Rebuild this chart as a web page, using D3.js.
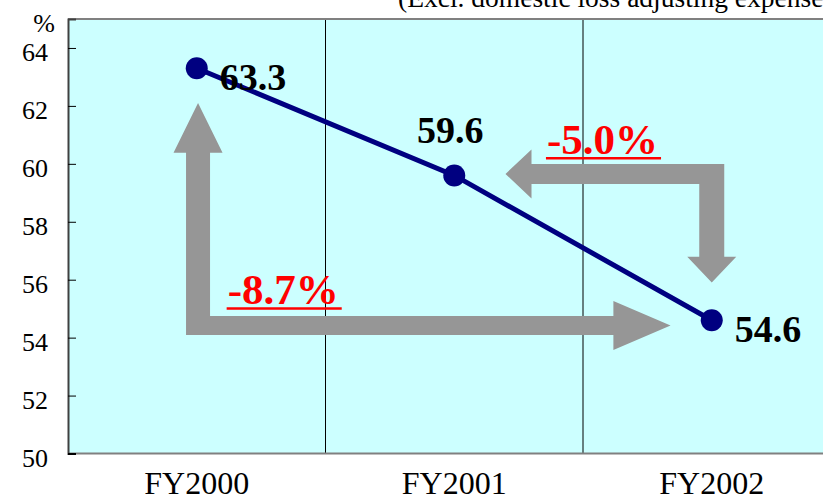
<!DOCTYPE html>
<html><head><meta charset="utf-8">
<script src="https://cdn.jsdelivr.net/npm/d3@7/dist/d3.min.js"></script>
<style>body{margin:0;background:#fff}svg{display:block}</style></head>
<body>
<script>
// ---- data ----
const categories = ["FY2000", "FY2001", "FY2002"];
const values = [63.3, 59.6, 54.6];
const yTicks = [50, 52, 54, 56, 58, 60, 62, 64];
const unitLabel = "%";
const noteText = "(Excl. domestic loss adjusting expenses)";
const changeLabels = ["-8.7%", "-5.0%"];
// annotation anchors in data units (category index, value)
const arrow1 = {shaftI: 0.005, tipV: 62.1, headBaseV: 60.38, cornerV: 54.42, headBaseI: 1.618, tipI: 1.84};
const arrow2 = {shaftV: 59.65, tipI: 1.199, headBaseI: 1.30, cornerI: 2.0, headBaseV: 56.79, tipV: 55.9};
const changeAnchors = [{i: 0.12, v: 55.16}, {i: 1.36, v: 60.35}];

// ---- layout ----
const W = 823, H = 496;
const mLeft = 68, mTop = 19, mBottom = 453.5, bandW = 257.5;
const font = "'Liberation Serif','Times New Roman',serif";

const svg = d3.select("body").append("svg").attr("width", W).attr("height", H);

const x = d3.scaleBand().domain(categories).range([mLeft, mLeft + bandW * categories.length]).padding(0);
const xi = d3.scaleLinear().domain([0, 1]).range([x(categories[0]) + bandW / 2, x(categories[1]) + bandW / 2]);
const y = d3.scaleLinear().domain([50, 65]).range([mBottom, mTop]);

// plot background
svg.append("rect").attr("x", mLeft).attr("y", mTop)
  .attr("width", W - mLeft + 20).attr("height", mBottom - mTop)
  .attr("fill", "#CCFFFF");

// vertical separators between categories
svg.selectAll("line.sep").data(categories.slice(1)).enter().append("line")
  .attr("x1", d => x(d)).attr("x2", d => x(d))
  .attr("y1", mTop).attr("y2", mBottom)
  .attr("stroke", "#000").attr("stroke-width", 1);

// borders
svg.append("line").attr("x1", mLeft).attr("x2", W).attr("y1", mTop).attr("y2", mTop)
  .attr("stroke", "#808080").attr("stroke-width", 2);
svg.append("line").attr("x1", mLeft).attr("x2", W).attr("y1", mBottom).attr("y2", mBottom)
  .attr("stroke", "#808080").attr("stroke-width", 2);

// y axis
const yAxis = d3.axisRight(y).tickValues(yTicks).tickSize(8).tickFormat("");
const ya = svg.append("g").attr("transform", `translate(${mLeft},0)`).call(yAxis);
ya.select(".domain").attr("stroke", "#404040").attr("stroke-width", 2);
ya.selectAll(".tick line").attr("stroke", "#000").attr("stroke-width", 1);
ya.selectAll(".tick").filter(d => d === 50).select("line").attr("stroke-width", 2);

svg.selectAll("text.ytl").data(yTicks).enter().append("text")
  .attr("x", 48).attr("y", d => y(d) + 13)
  .attr("text-anchor", "end")
  .style("font-family", font).style("font-size", "26px").attr("fill", "#000")
  .text(d => d);

svg.append("text").attr("x", 55).attr("y", 32).attr("text-anchor", "end")
  .style("font-family", font).style("font-size", "26px").text(unitLabel);

// note text at top
svg.append("text").attr("x", 398).attr("y", 7)
  .style("font-family", font).style("font-size", "27.5px").text(noteText);

// x labels
svg.selectAll("text.xl").data(categories).enter().append("text")
  .attr("x", d => x(d) + bandW / 2).attr("y", 494)
  .attr("text-anchor", "middle")
  .style("font-family", font).style("font-size", "32px").text(d => d);

// arrows
const grey = "#969696";
function arrowPath1(a) {
  const cx = xi(a.shaftI), hw = 12, hh = 24.5;
  const tipY = y(a.tipV), hbY = y(a.headBaseV), cy = y(a.cornerV), sh = 9.5;
  const hbX = xi(a.headBaseI), tipX = xi(a.tipI);
  return [[cx, tipY], [cx + hh, hbY], [cx + hw, hbY], [cx + hw, cy - sh], [hbX, cy - sh],
    [hbX, cy - hh], [tipX, cy], [hbX, cy + hh], [hbX, cy + sh], [cx - hw, cy + sh],
    [cx - hw, hbY], [cx - hh, hbY]];
}
function arrowPath2(a) {
  const cy = y(a.shaftV), sh = 10, hh = 24.5;
  const tipX = xi(a.tipI), hbX = xi(a.headBaseI), cx = xi(a.cornerI), hw = 12.5;
  const hbY = y(a.headBaseV), tipY = y(a.tipV);
  return [[tipX, cy], [hbX, cy - hh], [hbX, cy - sh], [cx + hw, cy - sh], [cx + hw, hbY],
    [cx + hh, hbY], [cx, tipY], [cx - hh, hbY], [cx - hw, hbY], [cx - hw, cy + sh],
    [hbX, cy + sh], [hbX, cy + hh]];
}
const line = d3.line();
svg.append("path").attr("d", line(arrowPath1(arrow1)) + "Z").attr("fill", grey);
svg.append("path").attr("d", line(arrowPath2(arrow2)) + "Z").attr("fill", grey);

// change labels (red, bold, underlined)
changeAnchors.forEach((c, k) => {
  const t = svg.append("text").attr("x", xi(c.i)).attr("y", y(c.v))
    .style("font-family", font).style("font-size", "43px").style("font-weight", "bold")
    .attr("fill", "#FF0000").text(changeLabels[k]);
  const bb = t.node().getBBox();
  svg.append("line").attr("x1", bb.x - 1).attr("x2", bb.x + bb.width + 3)
    .attr("y1", y(c.v) + 4.5).attr("y2", y(c.v) + 4.5)
    .attr("stroke", "#FF0000").attr("stroke-width", 2.5);
});

// data line
const pts = categories.map((c, i) => ({c, v: values[i]}));
svg.append("path").datum(pts)
  .attr("d", d3.line().x(d => x(d.c) + bandW / 2).y(d => y(d.v)))
  .attr("fill", "none").attr("stroke", "#000080").attr("stroke-width", 5);
svg.selectAll("circle.pt").data(pts).enter().append("circle")
  .attr("cx", d => x(d.c) + bandW / 2).attr("cy", d => y(d.v)).attr("r", 11)
  .attr("fill", "#000080");

// value labels
const labelPlace = ["right", "above", "right"];
svg.selectAll("text.vl").data(pts).enter().append("text")
  .attr("x", (d, i) => x(d.c) + bandW / 2 + (labelPlace[i] === "right" ? 23 : -4))
  .attr("y", (d, i) => y(d.v) + (labelPlace[i] === "right" ? 22 : -32))
  .attr("text-anchor", (d, i) => labelPlace[i] === "right" ? "start" : "middle")
  .style("font-family", font).style("font-size", "38px").style("font-weight", "bold")
  .attr("fill", "#000").text(d => d.v.toFixed(1));
</script>
</body></html>
